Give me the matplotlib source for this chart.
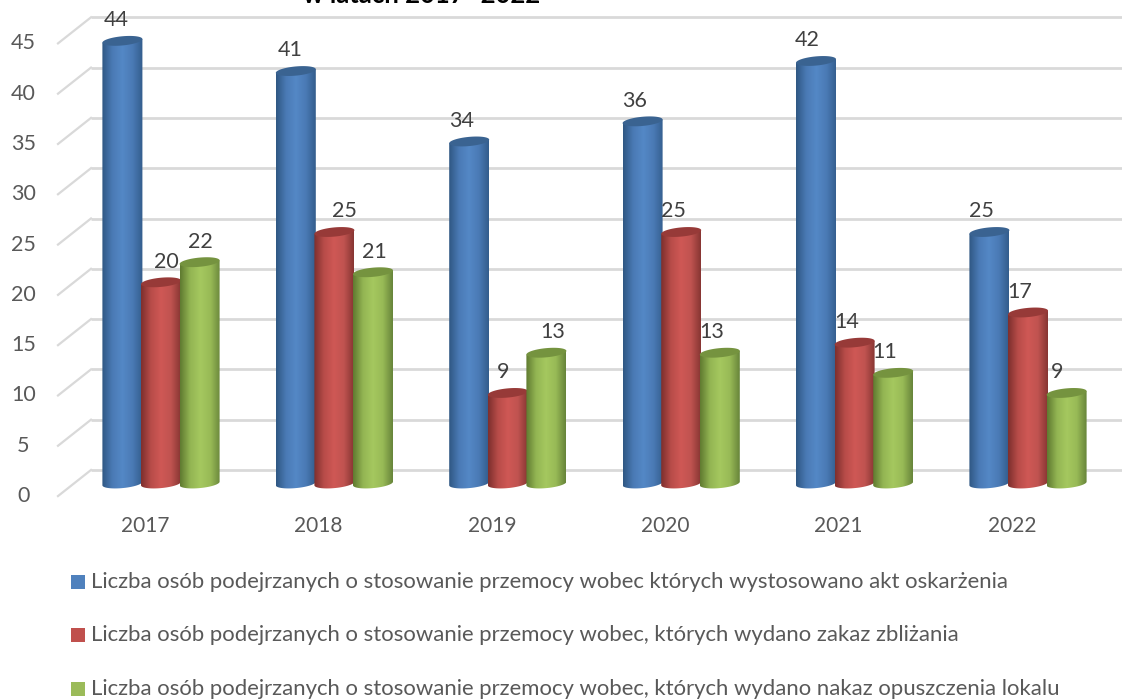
import matplotlib
matplotlib.use('Agg')
import matplotlib.pyplot as plt
import numpy as np
from matplotlib.colors import LinearSegmentedColormap
from matplotlib.patches import Polygon, Rectangle

plt.rcParams['font.family'] = ['Lato', 'DejaVu Sans']

years = ['2017', '2018', '2019', '2020', '2021', '2022']
oskarzenie = [44, 41, 34, 36, 42, 25]
zakaz = [20, 25, 9, 25, 14, 17]
nakaz = [22, 21, 13, 13, 11, 9]
y_ticks = [0, 5, 10, 15, 20, 25, 30, 35, 40, 45]

series = [oskarzenie, zakaz, nakaz]
labels = ['Liczba osób podejrzanych o stosowanie przemocy wobec których wystosowano akt oskarżenia',
          'Liczba osób podejrzanych o stosowanie przemocy wobec, których wydano zakaz zbliżania',
          'Liczba osób podejrzanych o stosowanie przemocy wobec, których wydano nakaz opuszczenia lokalu']
title = 'w latach 2017- 2022'

# side shading of the cylinders: edge dark, middle light, edge dark
shades = [['#2f5783', '#4a7ab5', '#5488c6', '#4a7ab5', '#335d8c'],
          ['#7d2f2d', '#b84c49', '#cf5855', '#c05350', '#873533'],
          ['#5f7a30', '#93b553', '#a5c85f', '#98ba56', '#67843a']]
tops = ['#3a6391', '#973a38', '#75933f']
legend_colors = ['#4f81bd', '#c0504d', '#9bbb59']

# sideways shift of each value label against its bar, in px
label_dx = [[-6, -6, -8, -8, -9, -8],
            [5, 10, -5, -8, -8, -8],
            [1, 1, 6, -8, -9, -9]]

W, H = 1122, 699
PX_X = 173.4   # px per category
PX_Y = 10.06   # px per unit
X0 = 161
Y0 = 483.5

fig = plt.figure(figsize=(W / 100, H / 100), dpi=100)
ax = fig.add_axes([0, 0, 1, 1])
xlim = (-X0 / PX_X, (W - X0) / PX_X)
ylim = ((Y0 - H) / PX_Y, Y0 / PX_Y)
ax.axis('off')

bar_w = 40 / PX_X
step = 38.6 / PX_X
rx = bar_w / 2
ry = 4.6 / PX_Y
tilt = 1.8 / PX_Y

# back wall gridlines and the slanted part on the left
back = 13.5 / PX_Y
left = (58 - X0) / PX_X
corner = (91 - X0) / PX_X
for t in y_ticks:
    ax.plot([corner, xlim[1]], [t + back, t + back], color='#d9d9d9', lw=2, zorder=1,
            solid_capstyle='butt')
    ax.plot([left, corner], [t - 1.25, t + back], color='#d9d9d9', lw=1.6, zorder=1)
    ax.text((23.5 - X0) / PX_X, t - 1.25, str(t), ha='center', va='center',
            fontsize=15.5, color='#595959')

theta = np.linspace(0, 2 * np.pi, 60)
lower = np.linspace(np.pi, 2 * np.pi, 30)
for s, vals in enumerate(series):
    cmap = LinearSegmentedColormap.from_list('c%d' % s, shades[s])
    for i, v in enumerate(vals):
        cx = i + (s - 1) * step
        # bottom outline then straight up to the top
        xs = cx + rx * np.cos(lower)
        ys = ry * np.sin(lower) + tilt * np.cos(lower)
        side_x = np.r_[xs, cx + rx, cx - rx]
        side_y = np.r_[ys, v + tilt, v - tilt]
        body = Polygon(np.c_[side_x, side_y], closed=True, fc='none', ec='none',
                       transform=ax.transData)
        ax.add_patch(body)
        im = ax.imshow(np.linspace(0, 1, 128).reshape(1, -1), cmap=cmap, aspect='auto',
                       extent=(cx - rx, cx + rx, -1, v + 1), zorder=3 + s * 0.1 + i,
                       interpolation='bilinear')
        im.set_clip_path(body)
        cap = Polygon(np.c_[cx + rx * np.cos(theta),
                            v + ry * np.sin(theta) + tilt * np.cos(theta)],
                      closed=True, fc=tops[s], ec='none', zorder=3.05 + s * 0.1 + i)
        ax.add_patch(cap)
        ax.text(cx + label_dx[s][i] / PX_X, v + 1.05, str(v), ha='center', va='bottom',
                fontsize=15.5, color='#404040', zorder=20)

for i, y in enumerate(years):
    ax.text(i - 16 / PX_X, (Y0 - 526) / PX_Y, y, ha='center', va='center',
            fontsize=15, color='#595959')

legend_y = [582, 635, 689]
for lab, col, py in zip(labels, legend_colors, legend_y):
    yy = (Y0 - py) / PX_Y
    ax.add_patch(Rectangle(((71 - X0) / PX_X, yy - 7 / PX_Y), 14 / PX_X, 14 / PX_Y, fc=col, ec='none'))
    ax.text((91 - X0) / PX_X, yy, lab, ha='left', va='center', fontsize=15.93, color='#595959')

ax.text((422 - X0) / PX_X, (Y0 - 3) / PX_Y, title, ha='center', va='baseline',
        fontsize=18.5, fontweight='bold', color='black')

ax.set_xlim(xlim)
ax.set_ylim(ylim)
fig.savefig('out.png', dpi=100, facecolor='white')
